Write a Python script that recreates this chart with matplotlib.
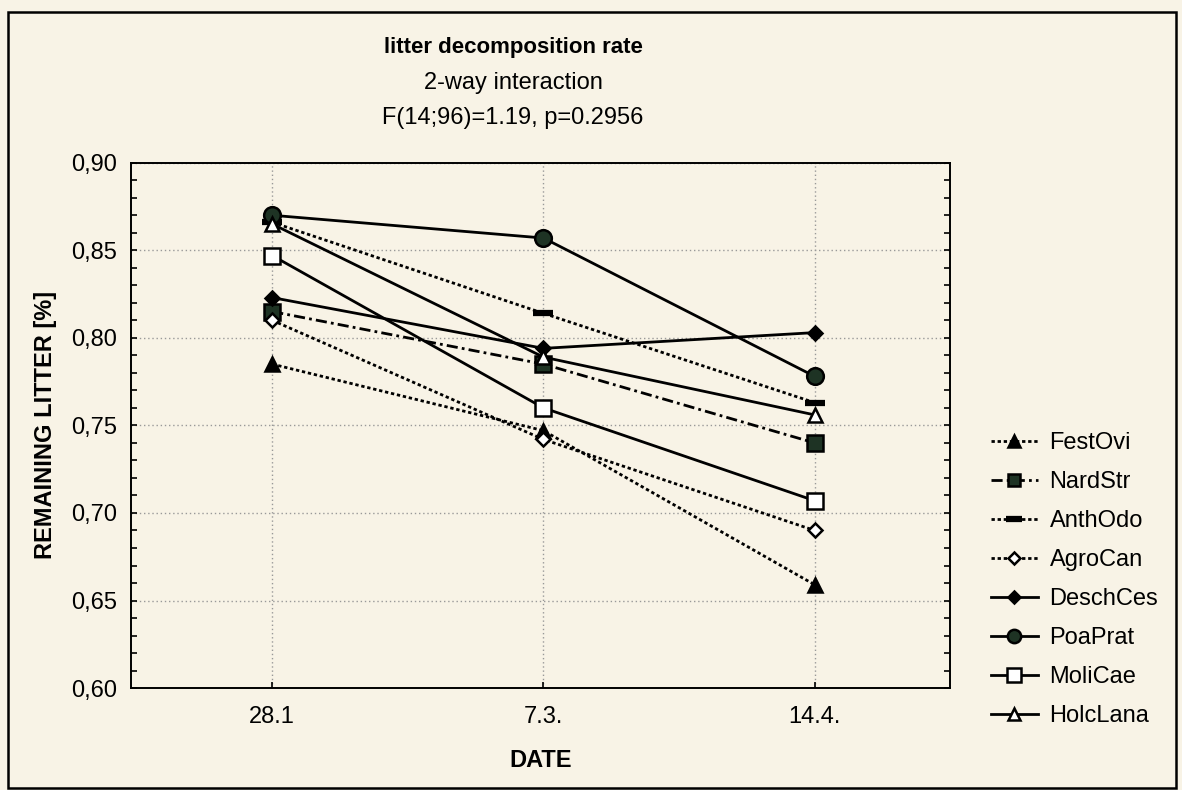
import numpy as np
import matplotlib
matplotlib.use('Agg')
import matplotlib.pyplot as plt
from matplotlib.patches import Rectangle
from matplotlib.ticker import FuncFormatter, MultipleLocator

plt.rcParams['font.family'] = ['Liberation Sans', 'DejaVu Sans']

# data
dates = ['28.1', '7.3.', '14.4.']
species = ['FestOvi', 'NardStr', 'AnthOdo', 'AgroCan', 'DeschCes', 'PoaPrat', 'MoliCae', 'HolcLana']
FestOvi = [0.785, 0.747, 0.659]
NardStr = [0.815, 0.785, 0.740]
AnthOdo = [0.866, 0.814, 0.763]
AgroCan = [0.810, 0.742, 0.690]
DeschCes = [0.823, 0.794, 0.803]
PoaPrat = [0.870, 0.857, 0.778]
MoliCae = [0.847, 0.760, 0.707]
HolcLana = [0.865, 0.789, 0.756]
yticks = [0.60, 0.65, 0.70, 0.75, 0.80, 0.85, 0.90]

values = [FestOvi, NardStr, AnthOdo, AgroCan, DeschCes, PoaPrat, MoliCae, HolcLana]
styles = [
    dict(ls=(0, (1.2, 1.0)), marker='^', mfc='black', ms=10),
    dict(ls=(0, (4, 1.5, 1, 1.5)), marker='s', mfc='#1e3324', ms=11),
    dict(ls=(0, (1.2, 1.0)), marker='_', mfc='black', ms=15, mew=4.5),
    dict(ls=(0, (1.2, 1.0)), marker='D', mfc='white', ms=7.5),
    dict(ls='-', marker='D', mfc='black', ms=7.5),
    dict(ls='-', marker='o', mfc='#1e3324', ms=12),
    dict(ls='-', marker='s', mfc='white', ms=12),
    dict(ls='-', marker='^', mfc='white', ms=10),
]

fs = 17
bg = '#f8f3e6'
fig = plt.figure(figsize=(11.82, 7.9), dpi=100, facecolor=bg)
ax = fig.add_axes([0.111, 0.129, 0.693, 0.665], facecolor=bg)

x = np.arange(len(dates))
for name, vals, st in zip(species, values, styles):
    ax.plot(x, vals, color='black', lw=2.0, mec='black',
            mew=st.pop('mew', 1.8), label=name, **st)

ax.set_xlim(-0.52, 2.50)
ax.set_ylim(0.60, 0.90)
ax.set_xticks(x)
ax.set_xticklabels(dates)
ax.set_yticks(yticks)
ax.yaxis.set_minor_locator(MultipleLocator(0.01))
ax.yaxis.set_major_formatter(FuncFormatter(lambda v, p: f'{v:.2f}'.replace('.', ',')))
ax.tick_params(which='both', direction='in', width=1.2, left=True, right=True)
ax.tick_params(which='major', labelsize=fs, length=4)
ax.tick_params(which='minor', length=4)
ax.tick_params(axis='y', pad=10)
ax.tick_params(axis='x', pad=13)
ax.grid(True, color='#999999', ls=(0, (1, 2)), lw=1)
for s in ax.spines.values():
    s.set_linewidth(1.4)

ax.set_xlabel('DATE', fontsize=fs, fontweight='bold', labelpad=15)
ax.set_ylabel('REMAINING LITTER [%]', fontsize=fs, fontweight='bold', labelpad=10)

fig.text(0.434, 0.940, 'litter decomposition rate', ha='center', va='center',
         fontsize=16, fontweight='bold')
fig.text(0.434, 0.895, '2-way interaction', ha='center', va='center', fontsize=fs)
fig.text(0.434, 0.851, 'F(14;96)=1.19, p=0.2956', ha='center', va='center', fontsize=fs)

leg = ax.legend(loc='upper left', bbox_to_anchor=(0.838, 0.453), bbox_transform=fig.transFigure,
                frameon=False, fontsize=fs, handlelength=2.0, labelspacing=0.72,
                handletextpad=0.5, borderpad=0, borderaxespad=0, markerscale=0.8)

fig.patches.append(Rectangle((0.007, 0.003), 0.988, 0.982, transform=fig.transFigure,
                             fill=False, ec='black', lw=1.8))

fig.savefig('out.png', dpi=100, facecolor=bg)
